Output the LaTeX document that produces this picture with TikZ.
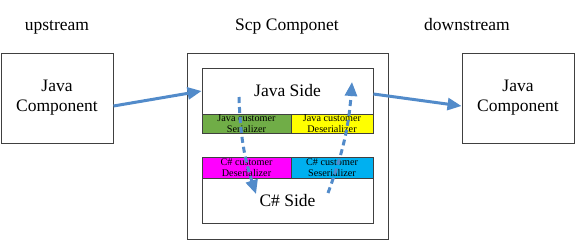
\documentclass[tikz,border=0pt]{standalone}
\usepackage{fontspec}
\setmainfont{Liberation Serif}
\usetikzlibrary{arrows.meta}

\definecolor{flowblue}{RGB}{82,139,202}
\definecolor{sergreen}{RGB}{112,173,71}
\definecolor{deyellow}{RGB}{255,255,0}
\definecolor{demagenta}{RGB}{255,0,255}
\definecolor{secyan}{RGB}{0,176,240}

\tikzset{
  bigtext/.style={font=\fontsize{17.5}{20}\selectfont},
  compbox/.style={draw=black!75, line width=1pt, inner sep=0pt, align=center, bigtext},
  sidebox/.style={draw=black!75, line width=0.9pt, inner sep=0pt, minimum width=171pt},
  cellbox/.style={draw=black!75, line width=0.9pt, inner sep=0pt, align=center,
    font=\fontsize{10.2}{11.4}\selectfont},
  flow/.style={flowblue, line width=3pt, -{Triangle[length=14pt,width=12pt]}},
  dashflow/.style={flow, dash pattern=on 6pt off 4pt, bend right=8}
}

\begin{document}
\begin{tikzpicture}[x=1pt,y=-1pt]
  \useasboundingbox (0,0) rectangle (577,242);

  % titles over the three parts
  \node[bigtext, anchor=base] (up) at (57,30) {upstream};
  \node[bigtext, anchor=base] (scp) at (287,30) {Scp Componet};
  \node[bigtext, anchor=base] (down) at (467,30) {downstream};

  % outer components
  \node[compbox, minimum width=112pt, minimum height=90pt] (src) at (57,98) {Java\\Component};
  \node[compbox, minimum width=112pt, minimum height=90pt] (dst) at (518,98) {Java\\Component};
  \node[draw=black!75, line width=1pt, minimum width=201pt, minimum height=186pt] (box) at (287.5,146) {};

  % java and c# sides with their (de)serializers
  \node[sidebox, minimum height=46pt, bigtext] (java) at (287.5,91) {Java Side};
  \node[cellbox, fill=sergreen, minimum width=89pt, minimum height=19pt] (jser) at (246.5,123.5) {Java customer\\Serializer};
  \node[cellbox, fill=deyellow, minimum width=82pt, minimum height=19pt] (jdes) at (332,123.5) {Java customer\\Deserializer};
  \node[cellbox, fill=demagenta, minimum width=89pt, minimum height=21pt] (cdes) at (246.5,167.5) {C\# customer\\Deserializer};
  \node[cellbox, fill=secyan, minimum width=82pt, minimum height=21pt] (cser) at (332,167.5) {C\# customer\\Seserializer};
  \node[sidebox, minimum height=45pt, bigtext] (csharp) at (287.5,200.5) {C\# Side};

  % data flow
  \draw[flow] ([yshift=-8pt]src.east) -- (java.west);
  \draw[flow] ([yshift=-3pt]java.east) -- ([yshift=-8pt]dst.west);

  \coordinate (j2c) at (239,97);
  \coordinate (j2cend) at (256,194);
  \coordinate (c2j) at (328,193);
  \coordinate (c2jend) at (352,82);
  \draw[dashflow] (j2c) to (j2cend);
  \draw[dashflow] (c2j) to (c2jend);
\end{tikzpicture}
\end{document}
